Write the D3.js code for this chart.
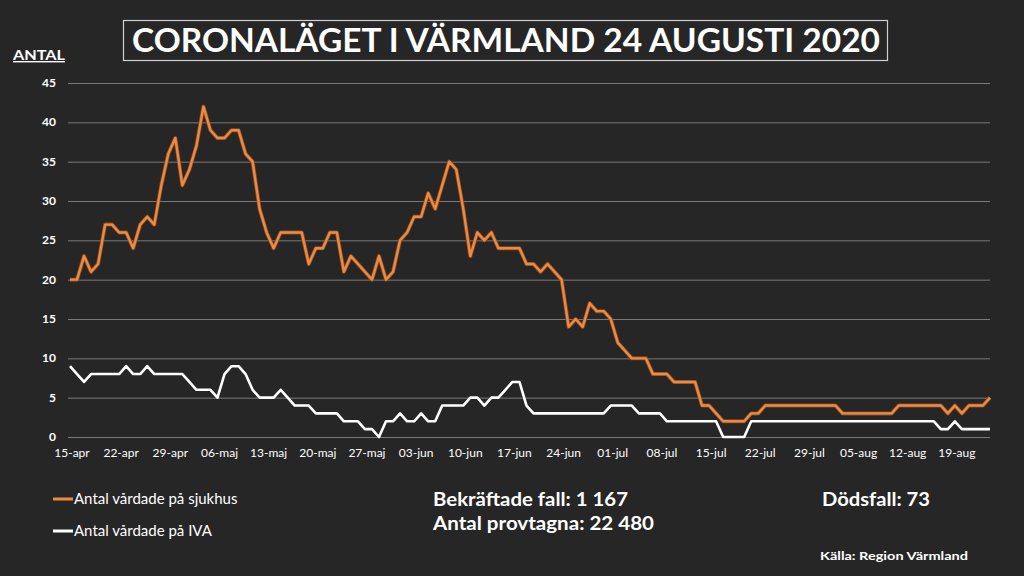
<!DOCTYPE html>
<html>
<head>
<meta charset="utf-8">
<script src="https://cdn.jsdelivr.net/npm/d3@7"></script>
<style>
  body { margin: 0; background: #262626; }
  svg { display: block; }
  .grid line { stroke: #7a7a7a; stroke-width: 1; }
  .grid .domain { display: none; }
  text { fill: #fff; font-family: Lato, "DejaVu Sans", sans-serif; }
</style>
</head>
<body>
<svg id="chart_svg"></svg>
<script>
var width = 1024, height = 576;
var margin = {top: 83, right: 34, bottom: 139, left: 70};

var startDate = new Date(2020, 3, 15);

// Antal vårdade på sjukhus, 15 apr - 24 aug
var sjukhus = [20, 20, 23, 21, 22, 27, 27, 26, 26, 24, 27, 28, 27, 32, 36, 38, 32, 34, 37, 42,
  39, 38, 38, 39, 39, 36, 35, 29, 26, 24, 26, 26, 26, 26, 22, 24, 24, 26, 26, 21,
  23, 22, 21, 20, 23, 20, 21, 25, 26, 28, 28, 31, 29, 32, 35, 34, 29, 23, 26, 25,
  26, 24, 24, 24, 24, 22, 22, 21, 22, 21, 20, 14, 15, 14, 17, 16, 16, 15, 12, 11,
  10, 10, 10, 8, 8, 8, 7, 7, 7, 7, 4, 4, 3, 2, 2, 2, 2, 3, 3, 4,
  4, 4, 4, 4, 4, 4, 4, 4, 4, 4, 3, 3, 3, 3, 3, 3, 3, 3, 4, 4,
  4, 4, 4, 4, 4, 3, 4, 3, 4, 4, 4, 5];

// Antal vårdade på IVA
var iva = [9, 8, 7, 8, 8, 8, 8, 8, 9, 8, 8, 9, 8, 8, 8, 8, 8, 7, 6, 6,
  6, 5, 8, 9, 9, 8, 6, 5, 5, 5, 6, 5, 4, 4, 4, 3, 3, 3, 3, 2,
  2, 2, 1, 1, 0, 2, 2, 3, 2, 2, 3, 2, 2, 4, 4, 4, 4, 5, 5, 4,
  5, 5, 6, 7, 7, 4, 3, 3, 3, 3, 3, 3, 3, 3, 3, 3, 3, 4, 4, 4,
  4, 3, 3, 3, 3, 2, 2, 2, 2, 2, 2, 2, 2, 0, 0, 0, 0, 2, 2, 2,
  2, 2, 2, 2, 2, 2, 2, 2, 2, 2, 2, 2, 2, 2, 2, 2, 2, 2, 2, 2,
  2, 2, 2, 2, 1, 1, 2, 1, 1, 1, 1, 1];

var tickLabels = ['15-apr', '22-apr', '29-apr', '06-maj', '13-maj', '20-maj', '27-maj',
  '03-jun', '10-jun', '17-jun', '24-jun', '01-jul', '08-jul', '15-jul', '22-jul',
  '29-jul', '05-aug', '12-aug', '19-aug'];

var yTicks = [0, 5, 10, 15, 20, 25, 30, 35, 40, 45];

var dates = sjukhus.map(function(d, i) {
  return d3.timeDay.offset(startDate, i);
});
var tickDates = tickLabels.map(function(d, i) {
  return d3.timeDay.offset(startDate, i * 7);
});

var svg = d3.select('#chart_svg')
  .attr('width', width)
  .attr('height', height);

var x = d3.scaleTime()
  .domain([dates[0], dates[dates.length - 1]])
  .range([margin.left, width - margin.right]);

var y = d3.scaleLinear()
  .domain([0, 45])
  .range([height - margin.bottom, margin.top]);

// grid
svg.append('g')
  .attr('class', 'grid')
  .attr('transform', 'translate(' + (margin.left - 2) + ',0)')
  .call(d3.axisLeft(y).tickValues(yTicks).tickSize(-(width - margin.left - margin.right + 2)).tickFormat(''));

svg.selectAll('.ylabel')
  .data(yTicks)
  .enter()
  .append('text')
  .attr('class', 'ylabel')
  .attr('x', 56)
  .attr('y', function(d) { return y(d) + 4; })
  .style('text-anchor', 'end')
  .style('font-size', '12px')
  .style('font-weight', 'bold')
  .text(function(d) { return d; });

svg.selectAll('.xlabel')
  .data(tickDates)
  .enter()
  .append('text')
  .attr('class', 'xlabel')
  .attr('x', function(d) { return x(d) + 2; })
  .attr('y', 457)
  .style('text-anchor', 'middle')
  .style('font-size', '12px')
  .text(function(d, i) { return tickLabels[i]; });

var line = d3.line()
  .x(function(d, i) { return x(dates[i]); })
  .y(function(d) { return y(d); });

svg.append('path')
  .datum(sjukhus)
  .attr('fill', 'none')
  .attr('stroke', '#8a4a1e')
  .attr('stroke-width', 4)
  .attr('stroke-linejoin', 'round')
  .attr('d', line);

svg.append('path')
  .datum(sjukhus)
  .attr('fill', 'none')
  .attr('stroke', '#ed8b45')
  .attr('stroke-width', 2.4)
  .attr('stroke-linejoin', 'round')
  .attr('d', line);

svg.append('path')
  .datum(iva)
  .attr('fill', 'none')
  .attr('stroke', '#ffffff')
  .attr('stroke-width', 2.6)
  .attr('stroke-linejoin', 'round')
  .attr('d', line);

// title
svg.append('rect')
  .attr('x', 123.5)
  .attr('y', 20.5)
  .attr('width', 764)
  .attr('height', 40)
  .attr('fill', 'none')
  .attr('stroke', '#d0d0d0')
  .attr('stroke-width', 1.2);

svg.append('text')
  .attr('x', 132)
  .attr('y', 52)
  .attr('textLength', 748)
  .attr('lengthAdjust', 'spacingAndGlyphs')
  .style('font-size', '33px')
  .style('font-weight', 'bold')
  .text('CORONALÄGET I VÄRMLAND 24 AUGUSTI 2020');

svg.append('text')
  .attr('x', 13)
  .attr('y', 60)
  .attr('textLength', 52)
  .attr('lengthAdjust', 'spacingAndGlyphs')
  .style('font-size', '14px')
  .style('font-weight', 'bold')
  .style('text-decoration', 'underline')
  .text('ANTAL');

// legend
var legend = [
  {name: 'Antal vårdade på sjukhus', color: '#ed8b45', y: 499},
  {name: 'Antal vårdade på IVA', color: '#ffffff', y: 531}
];

svg.selectAll('.leg-line')
  .data(legend)
  .enter()
  .append('line')
  .attr('x1', 53)
  .attr('x2', 73)
  .attr('y1', function(d) { return d.y; })
  .attr('y2', function(d) { return d.y; })
  .attr('stroke', function(d) { return d.color; })
  .attr('stroke-width', 3);

svg.selectAll('.leg-text')
  .data(legend)
  .enter()
  .append('text')
  .attr('x', 74)
  .attr('y', function(d) { return d.y + 5; })
  .style('font-size', '15px')
  .text(function(d) { return d.name; });

var facts = [
  {text: 'Bekräftade fall: 1 167', x: 433, y: 506, len: 195, size: 18},
  {text: 'Antal provtagna: 22 480', x: 433, y: 530, len: 221, size: 18},
  {text: 'Dödsfall: 73', x: 822, y: 506, len: 108, size: 18},
  {text: 'Källa: Region Värmland', x: 820, y: 560, len: 148, size: 12}
];

svg.selectAll('.fact')
  .data(facts)
  .enter()
  .append('text')
  .attr('x', function(d) { return d.x; })
  .attr('y', function(d) { return d.y; })
  .attr('textLength', function(d) { return d.len; })
  .attr('lengthAdjust', 'spacingAndGlyphs')
  .style('font-size', function(d) { return d.size + 'px'; })
  .style('font-weight', 'bold')
  .text(function(d) { return d.text; });
</script>
</body>
</html>
